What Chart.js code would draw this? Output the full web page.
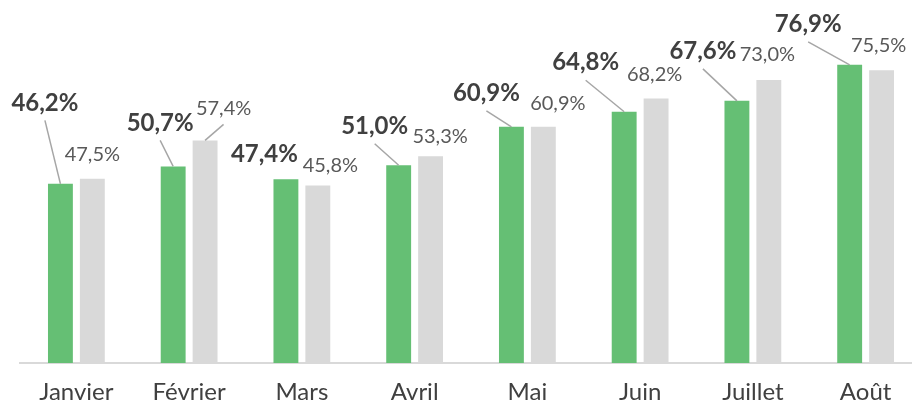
<!DOCTYPE html>
<html>
<head>
<meta charset="utf-8">
<script src="https://cdn.jsdelivr.net/npm/chart.js@4/dist/chart.umd.min.js"></script>
<style>
    html, body { margin: 0; padding: 0; background: #fff; overflow: hidden; width: 912px; height: 404px; }
    #chart { display: block; }
</style>
</head>
<body>
<canvas id="chart" width="922" height="422"></canvas>
<script>
var months = [ 'Janvier', 'Février', 'Mars', 'Avril', 'Mai', 'Juin', 'Juillet', 'Août' ];
var serieA = [ 46.2, 50.7, 47.4, 51.0, 60.9, 64.8, 67.6, 76.9 ];
var serieB = [ 47.5, 57.4, 45.8, 53.3, 60.9, 68.2, 73.0, 75.5 ];

// label placement relative to the top of each bar: [ dx, dy, leader line ]
var offsetsA = [ [ -15.5, -81, true ], [ -13, -43.5, true ], [ -21.5, -24.5, false ], [ -24, -39, true ],
    [ -25, -33.5, true ], [ -38.5, -49, true ], [ -34, -49.5, true ], [ -41.5, -40.5, true ] ];
var offsetsB = [ [ 0, -24, false ], [ 18.5, -31.5, true ], [ 12.5, -19.5, false ], [ 9.5, -20, false ],
    [ 14.5, -23.5, false ], [ -1.5, -24, false ], [ -1.5, -25, false ], [ -3, -25, false ] ];

var FONT = 'Lato, "Open Sans", sans-serif';

var fmt = function ( val ) {
    return val.toFixed( 1 ).replace( '.', ',' ) + '%';
};

var labelsPlugin = {
    id: 'barLabels',
    afterDatasetsDraw: function ( chart ) {
        var ctx = chart.ctx;
        var styles = [
            { offsets: offsetsA, font: 'bold 24px ' + FONT, color: '#404040', gap: 17.5 },
            { offsets: offsetsB, font: '20px ' + FONT, color: '#595959', gap: 15.5 }
        ];
        ctx.save();
        ctx.textAlign = 'center';
        ctx.textBaseline = 'middle';
        chart.data.datasets.forEach( function ( ds, di ) {
            var st = styles[ di ];
            chart.getDatasetMeta( di ).data.forEach( function ( bar, i ) {
                var off = st.offsets[ i ];
                var lx = bar.x + off[ 0 ];
                var ly = bar.y + off[ 1 ];
                if ( off[ 2 ] ) {
                    ctx.strokeStyle = '#a6a6a6';
                    ctx.lineWidth = 1.5;
                    ctx.beginPath();
                    ctx.moveTo( lx, ly + st.gap );
                    ctx.lineTo( bar.x, bar.y );
                    ctx.stroke();
                }
                ctx.font = st.font;
                ctx.fillStyle = st.color;
                ctx.fillText( fmt( ds.data[ i ] ), lx, ly );
            } );
        } );
        ctx.restore();
    }
};

new Chart( document.getElementById( 'chart' ), {
    type: 'bar',
    data: {
        labels: months,
        datasets: [
            { data: serieA, backgroundColor: '#65bf74', barPercentage: 0.78, categoryPercentage: 0.566 },
            { data: serieB, backgroundColor: '#d9d9d9', barPercentage: 0.78, categoryPercentage: 0.566 }
        ]
    },
    options: {
        responsive: false,
        animation: false,
        layout: { padding: { left: 20, right: 0, top: 14, bottom: 1 } },
        plugins: { legend: { display: false }, tooltip: { enabled: false } },
        scales: {
            x: {
                grid: { display: false, drawTicks: false },
                border: { display: true, color: '#d9d9d9', width: 2 },
                ticks: { padding: 17, color: '#404040', font: { family: FONT, size: 24, lineHeight: 1 } }
            },
            y: {
                display: false,
                min: 0,
                max: 90
            }
        }
    },
    plugins: [ labelsPlugin ]
} );
</script>
</body>
</html>
